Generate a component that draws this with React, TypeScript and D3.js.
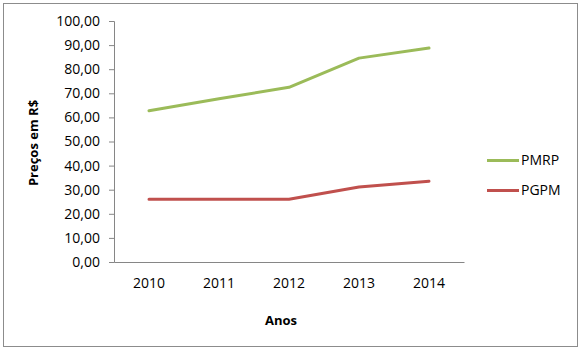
import React, { useEffect, useRef } from "react";
import * as d3 from "d3";

const years = ["2010", "2011", "2012", "2013", "2014"];
const pmrp = [62.8, 67.7, 72.5, 84.6, 88.8];
const pgpm = [26.0, 26.0, 26.0, 31.1, 33.5];
const yTicks = [0, 10, 20, 30, 40, 50, 60, 70, 80, 90, 100];

const seriesList = [
  { name: "PMRP", values: pmrp, color: "#9bbb59" },
  { name: "PGPM", values: pgpm, color: "#c0504d" },
];

const width = 583;
const height = 352;
const margin = { top: 21, right: 119, bottom: 90, left: 114 };
const font = "'Open Sans', 'Liberation Sans', sans-serif";

export default function App() {
  const svgRef = useRef<SVGSVGElement>(null);

  useEffect(() => {
    const svg = d3.select(svgRef.current);
    svg.selectAll("*").remove();

    const x = d3
      .scaleBand()
      .domain(years)
      .range([margin.left, width - margin.right]);

    const y = d3
      .scaleLinear()
      .domain([0, 100])
      .range([height - margin.bottom, margin.top]);

    // outer chart border
    svg
      .append("rect")
      .attr("x", 3.5)
      .attr("y", 3.5)
      .attr("width", 574)
      .attr("height", 343)
      .attr("fill", "#fff")
      .attr("stroke", "#8c8c8c");

    // y axis
    const yAxis = svg
      .append("g")
      .attr("transform", `translate(${margin.left},0)`)
      .call(
        d3
          .axisLeft(y)
          .tickValues(yTicks)
          .tickSize(5)
          .tickPadding(9)
          .tickFormat((d) => d3.format(".2f")(d as number).replace(".", ","))
      );
    yAxis.selectAll("path, line").attr("stroke", "#868686");
    yAxis
      .selectAll("text")
      .attr("font-family", font)
      .attr("font-size", 14)
      .attr("fill", "#000");

    // x axis
    const xAxis = svg
      .append("g")
      .attr("transform", `translate(0,${height - margin.bottom})`)
      .call(d3.axisBottom(x).tickSize(0).tickPadding(16));
    xAxis.select(".domain").attr("stroke", "#868686");
    xAxis
      .selectAll("text")
      .attr("font-family", font)
      .attr("font-size", 14)
      .attr("fill", "#000");

    // axis titles
    svg
      .append("text")
      .attr("x", 281)
      .attr("y", 325)
      .attr("text-anchor", "middle")
      .attr("font-family", font)
      .attr("font-size", 13)
      .attr("font-weight", "bold")
      .text("Anos");

    svg
      .append("text")
      .attr("transform", `translate(38,143) rotate(-90)`)
      .attr("text-anchor", "middle")
      .attr("font-family", font)
      .attr("font-size", 13)
      .attr("font-weight", "bold")
      .text("Preços em R$");

    const line = d3
      .line<number>()
      .x((d, i) => (x(years[i]) as number) + x.bandwidth() / 2)
      .y((d) => y(d));

    seriesList.forEach((s, k) => {
      svg
        .append("path")
        .attr("fill", "none")
        .attr("stroke", s.color)
        .attr("stroke-width", 3)
        .attr("stroke-linecap", "round")
        .attr("stroke-linejoin", "round")
        .attr("d", line(s.values));

      const ly = 160.5 + k * 30;
      svg
        .append("line")
        .attr("x1", 487)
        .attr("x2", 519)
        .attr("y1", ly)
        .attr("y2", ly)
        .attr("stroke", s.color)
        .attr("stroke-width", 3);
      svg
        .append("text")
        .attr("x", 521)
        .attr("y", ly)
        .attr("dy", "0.35em")
        .attr("font-family", font)
        .attr("font-size", 14)
        .text(s.name);
    });
  }, []);

  return (
    <div style={{ position: "absolute", left: 0, top: 0 }}>
      <svg ref={svgRef} width={width} height={height}></svg>
    </div>
  );
}
